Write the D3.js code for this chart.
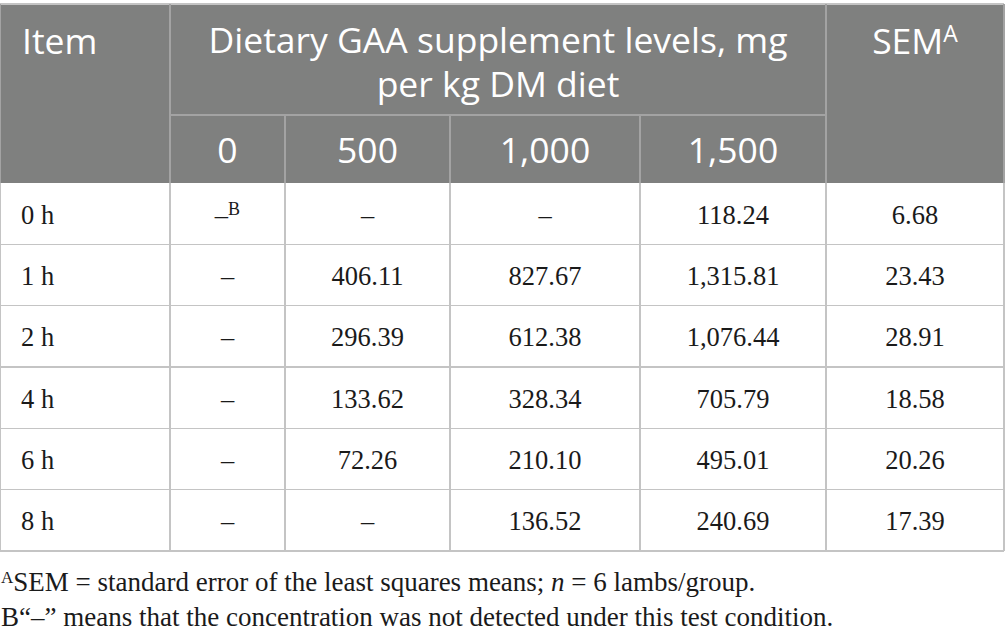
<!DOCTYPE html>
<html>
<head>
<meta charset="utf-8">
<script src="https://cdn.jsdelivr.net/npm/d3@7"></script>
<style>
  body { margin: 0; background: #fff; }
</style>
</head>
<body>
<svg width="1005" height="641"></svg>
<script>
// table content
var items = ['0 h', '1 h', '2 h', '4 h', '6 h', '8 h'];
var levels = ['0', '500', '1,000', '1,500'];
var level0 = [null, null, null, null, null, null];
var level500 = [null, 406.11, 296.39, 133.62, 72.26, null];
var level1000 = [null, 827.67, 612.38, 328.34, 210.10, 136.52];
var level1500 = [118.24, 1315.81, 1076.44, 705.79, 495.01, 240.69];
var sem = [6.68, 23.43, 28.91, 18.58, 20.26, 17.39];

var groupTitle = ['Dietary GAA supplement levels, mg', 'per kg DM diet'];
var footnotes = [
    ['A', 'SEM = standard error of the least squares means; ', 'n', ' = 6 lambs/group.'],
    ['B', '\u201c\u2013\u201d means that the concentration was not detected under this test condition.']
];

var series = [level0, level500, level1000, level1500];

var svg = d3.select('svg');
var fmt = d3.format(',.2f');
var sans = '"Open Sans", sans-serif';
var serif = '"Liberation Serif", serif';
var lineColor = '#c4c4c4';
var headLine = '#a3a3a3';
var headFill = '#7f807f';

// column layout
var colWidths = [170, 115, 165, 190, 186, 178];
var colEdges = [0].concat(Array.from(d3.cumsum(colWidths)));
function colMid(i) { return (colEdges[i] + colEdges[i + 1]) / 2; }

var tableTop = 4, headMid = 115, headBottom = 183, tableBottom = 551;
var right = colEdges[colEdges.length - 1];

var y = d3.scaleBand()
    .domain(items)
    .range([headBottom, tableBottom]);

// header background
svg.append('rect')
    .attr('x', 0).attr('y', tableTop)
    .attr('width', right).attr('height', headBottom - tableTop)
    .attr('fill', headFill);

var hlines = svg.append('g')
    .attr('stroke', headLine)
    .attr('stroke-width', 1.5)
    .attr('shape-rendering', 'crispEdges');

// header grid
hlines.append('line').attr('x1', 0).attr('x2', right).attr('y1', tableTop).attr('y2', tableTop).attr('stroke', lineColor);
hlines.append('line').attr('x1', colEdges[1]).attr('x2', colEdges[5]).attr('y1', headMid).attr('y2', headMid);
[0, 1, 5, 6].forEach(function(i) {
    hlines.append('line').attr('x1', colEdges[i]).attr('x2', colEdges[i]).attr('y1', tableTop).attr('y2', headBottom);
});
[2, 3, 4].forEach(function(i) {
    hlines.append('line').attr('x1', colEdges[i]).attr('x2', colEdges[i]).attr('y1', headMid).attr('y2', headBottom);
});

// body grid
var lines = svg.append('g')
    .attr('stroke', lineColor)
    .attr('stroke-width', 1.5)
    .attr('shape-rendering', 'crispEdges');

colEdges.forEach(function(x) {
    lines.append('line').attr('x1', x).attr('x2', x).attr('y1', headBottom).attr('y2', tableBottom);
});
items.forEach(function(d) {
    lines.append('line').attr('x1', 0).attr('x2', right)
        .attr('y1', y(d) + y.bandwidth()).attr('y2', y(d) + y.bandwidth());
});

// header text
var head = svg.append('g')
    .attr('fill', '#fff')
    .attr('font-family', sans)
    .attr('font-size', 35.5);

head.append('text').attr('x', 22).attr('y', 54).text('Item');

head.selectAll('.gt')
    .data(groupTitle)
    .enter().append('text')
    .attr('x', (colEdges[1] + colEdges[5]) / 2)
    .attr('y', function(d, i) { return 53 + i * 44; })
    .attr('text-anchor', 'middle')
    .text(function(d) { return d; });

head.selectAll('.lv')
    .data(levels)
    .enter().append('text')
    .attr('x', function(d, i) { return colMid(i + 1); })
    .attr('y', 163)
    .attr('text-anchor', 'middle')
    .text(function(d) { return d; });

var semHead = head.append('text')
    .attr('x', colMid(5))
    .attr('y', 54)
    .attr('text-anchor', 'middle');
semHead.append('tspan').text('SEM');
semHead.append('tspan').attr('font-size', 23).attr('dy', -12).text('A');

// body text
var body = svg.append('g')
    .attr('fill', '#1a1a1a')
    .attr('font-family', serif)
    .attr('font-size', 26.5);

function baseline(d) { return y(d) + y.bandwidth() / 2 + 10; }

body.selectAll('.item')
    .data(items)
    .enter().append('text')
    .attr('x', 21)
    .attr('y', baseline)
    .text(function(d) { return d; });

series.forEach(function(vals, c) {
    body.selectAll('.c' + c)
        .data(vals)
        .enter().append('text')
        .attr('x', colMid(c + 1))
        .attr('y', function(d, i) { return baseline(items[i]); })
        .attr('text-anchor', 'middle')
        .each(function(d, i) {
            var t = d3.select(this);
            if (d === null) {
                t.append('tspan').text('\u2013');
                if (c === 0 && i === 0) {
                    t.append('tspan').attr('font-size', 18).attr('dy', -9).text('B');
                }
            } else {
                t.text(fmt(d));
            }
        });
});

body.selectAll('.sem')
    .data(sem)
    .enter().append('text')
    .attr('x', colMid(5))
    .attr('y', function(d, i) { return baseline(items[i]); })
    .attr('text-anchor', 'middle')
    .text(function(d) { return fmt(d); });

// footnotes
var notes = svg.append('g')
    .attr('fill', '#1a1a1a')
    .attr('font-family', serif)
    .attr('font-size', 27);

var n1 = notes.append('text').attr('x', 1).attr('y', 591);
n1.append('tspan').attr('font-size', 17).attr('dy', -8).text(footnotes[0][0]);
n1.append('tspan').attr('dy', 8).text(footnotes[0][1]);
n1.append('tspan').attr('font-style', 'italic').text(footnotes[0][2]);
n1.append('tspan').text(footnotes[0][3]);

var n2 = notes.append('text').attr('x', 1).attr('y', 626);
n2.append('tspan').text(footnotes[1][0]);
n2.append('tspan').text(footnotes[1][1]);
</script>
</body>
</html>
